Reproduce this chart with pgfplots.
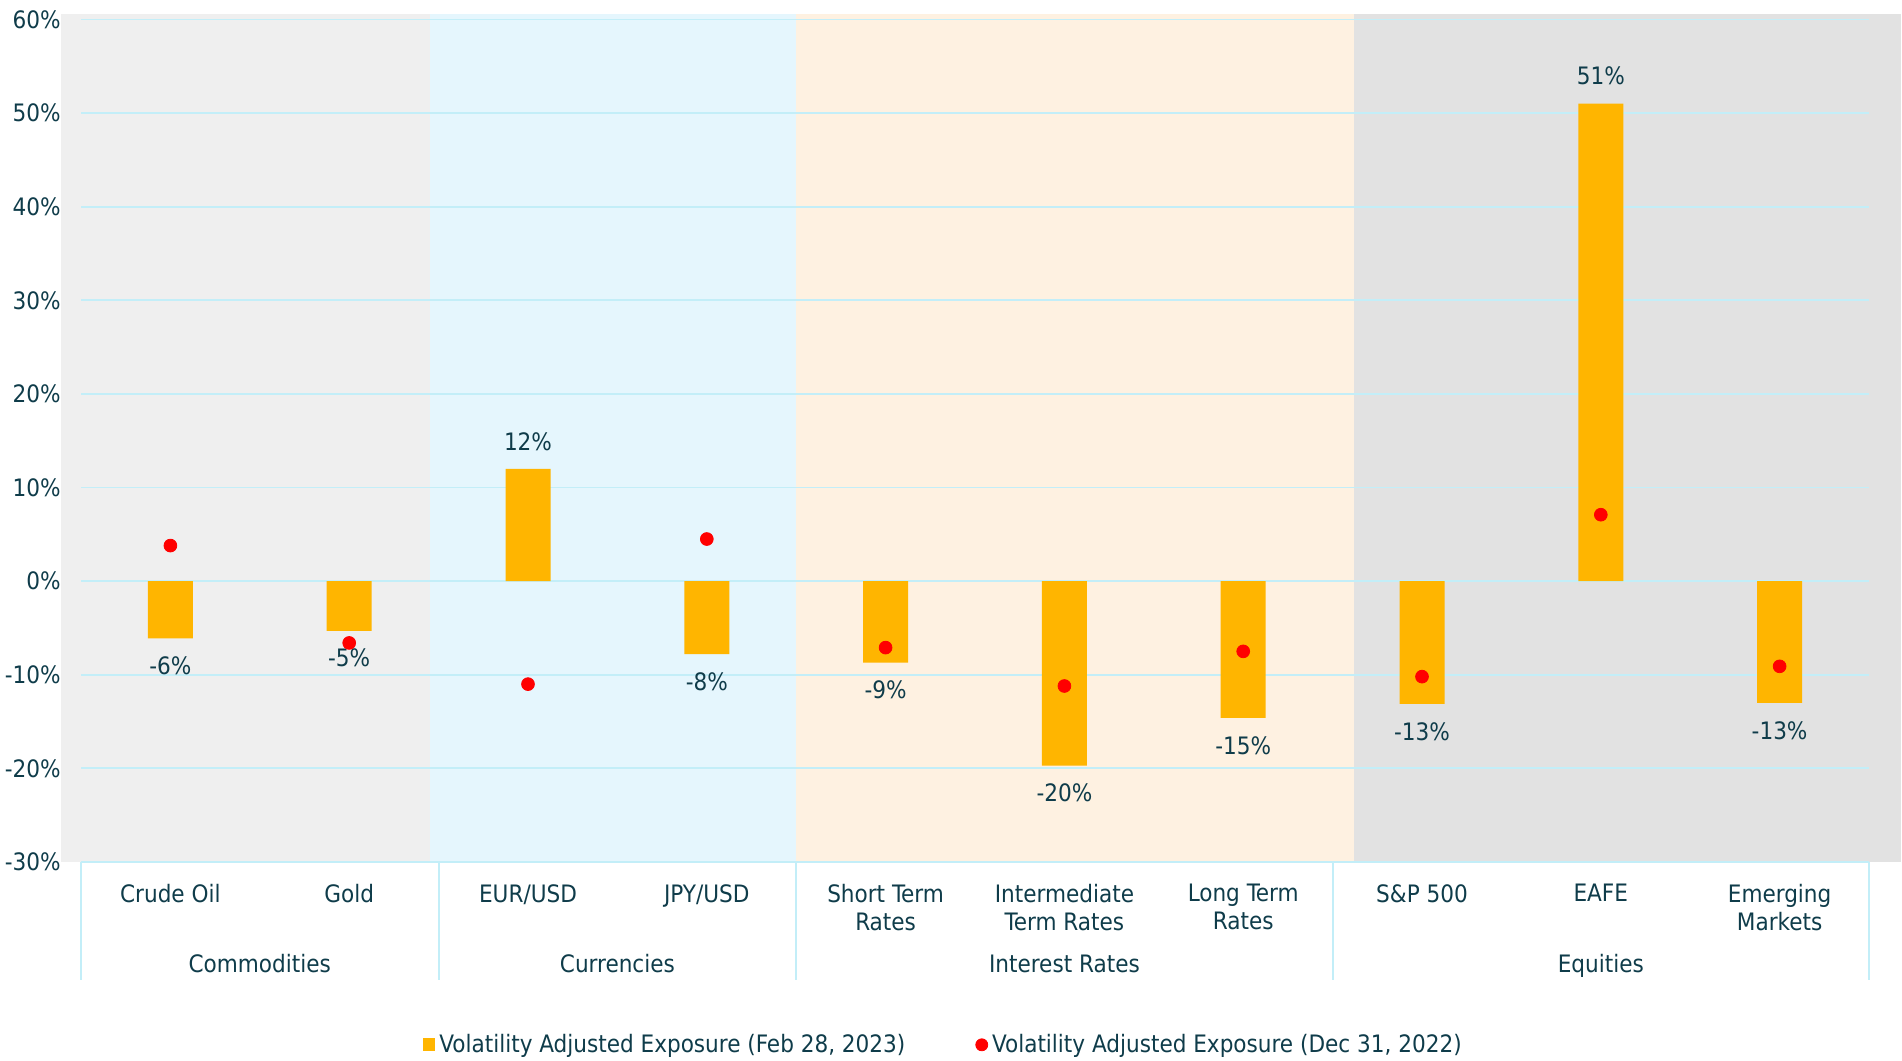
\documentclass[border=0pt]{standalone}
\usepackage{pgfplots}
\usepackage{pgfplotstable}
\pgfplotsset{compat=1.18}
\usetikzlibrary{calc}
\usepackage{fontspec}
\setmainfont{DejaVu Sans Condensed}
\definecolor{txt}{HTML}{0F3C4A}
\definecolor{gridc}{HTML}{C3EEF8}
\definecolor{barc}{HTML}{FFB500}
\definecolor{dotc}{HTML}{FF0000}
\definecolor{bgA}{HTML}{EFEFEF}
\definecolor{bgB}{HTML}{E5F6FD}
\definecolor{bgC}{HTML}{FEF1E1}
\definecolor{bgD}{HTML}{E2E2E2}
\pgfplotstableread{
x y
0 -6.1
1 -5.3
2 12.0
3 -7.8
4 -8.7
5 -19.7
6 -14.6
7 -13.1
8 51.0
9 -13.0
}\feb
\pgfplotstableread{
x y
0 3.8
1 -6.6
2 -11.0
3 4.5
4 -7.1
5 -11.2
6 -7.5
7 -10.2
8 7.1
9 -9.1
}\dec
\newcommand\lblfont{\fontsize{12}{14}\selectfont}
\begin{document}
\begin{tikzpicture}
\begin{axis}[
  set layers=standard,
  scale only axis, width=894pt, height=421.25pt,
  xmin=-0.5, xmax=9.5, ymin=-30, ymax=60,
  clip=false,
  axis line style={draw=none},
  major tick length=0pt,
  ytick={-30,-20,...,60},
  ymajorgrids, grid style={color=gridc, line width=0.9pt},
  /pgf/number format/assume math mode=true,
  yticklabel={\pgfmathprintnumber{\tick}\%},
  yticklabel style={font=\lblfont, color=txt, inner sep=0pt, xshift=-10pt},
  xtick={0,...,9},
  xticklabels={Crude Oil, Gold, EUR/USD, JPY/USD, {Short Term\\Rates}, {Intermediate\\Term Rates}, {Long Term\\Rates}, S\&P 500, EAFE, {Emerging\\Markets}},
  xticklabel style={align=center, font=\lblfont, color=txt, inner sep=0pt, yshift=-11pt, anchor=north},
  legend columns=2,
  legend style={draw=none, fill=none, font=\lblfont, text=txt, at={(0.483,-0.217)}, anchor=center,
    /tikz/column sep=0pt, /tikz/every even column/.append style={column sep=33pt}},
]
\begin{pgfonlayer}{axis background}
\fill[bgA] (axis cs:-0.612,-30) rectangle (axis cs:1.452,60.6);
\fill[bgB] (axis cs:1.452,-30) rectangle (axis cs:3.5,60.6);
\fill[bgC] (axis cs:3.5,-30) rectangle (axis cs:6.62,60.6);
\fill[bgD] (axis cs:6.62,-30) rectangle (axis cs:9.68,60.6);
\end{pgfonlayer}
\addplot[ybar, bar width=22.5pt, fill=barc, draw=none,
  nodes near coords={\pgfmathprintnumber[fixed,precision=0]{\pgfplotspointmeta}\%},
  nodes near coords align={vertical},
  every node near coord/.append style={font=\lblfont, color=txt, inner ysep=9pt, inner xsep=0pt},
  legend image code/.code={\fill[barc] (0pt,-3.2pt) rectangle (6pt,3.4pt);}]
  table[x=x,y=y]{\feb};
\addlegendentry{Volatility Adjusted Exposure (Feb 28, 2023)}
\addplot[only marks, mark=*, mark size=3.2pt, color=dotc, mark options={draw=none, fill=dotc},
  legend image code/.code={\fill[dotc] (3pt,0pt) circle (3pt);}]
  table[x=x,y=y]{\dec};
\addlegendentry{Volatility Adjusted Exposure (Dec 31, 2022)}
\draw[gridc, line width=0.9pt] (axis cs:-0.5,-30) -- ([yshift=-59pt]axis cs:-0.5,-30);
\draw[gridc, line width=0.9pt] (axis cs:1.5,-30) -- ([yshift=-59pt]axis cs:1.5,-30);
\draw[gridc, line width=0.9pt] (axis cs:3.5,-30) -- ([yshift=-59pt]axis cs:3.5,-30);
\draw[gridc, line width=0.9pt] (axis cs:6.5,-30) -- ([yshift=-59pt]axis cs:6.5,-30);
\draw[gridc, line width=0.9pt] (axis cs:9.5,-30) -- ([yshift=-59pt]axis cs:9.5,-30);
\node[font=\lblfont, text=txt, anchor=base, yshift=-55.5pt] at (axis cs:0.5,-30) {Commodities};
\node[font=\lblfont, text=txt, anchor=base, yshift=-55.5pt] at (axis cs:2.5,-30) {Currencies};
\node[font=\lblfont, text=txt, anchor=base, yshift=-55.5pt] at (axis cs:5,-30) {Interest Rates};
\node[font=\lblfont, text=txt, anchor=base, yshift=-55.5pt] at (axis cs:8,-30) {Equities};
\end{axis}
\pgfresetboundingbox
\path ($(current axis.south west)+(-40.5pt,-99.5pt)$) rectangle ($(current axis.north east)+(16.5pt,9.75pt)$);
\end{tikzpicture}
\end{document}
